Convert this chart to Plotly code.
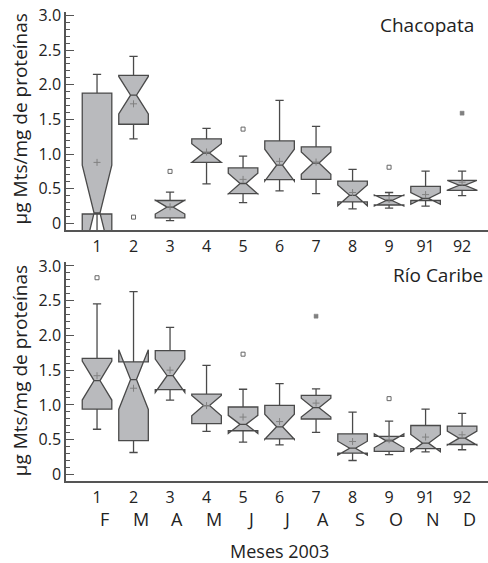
import plotly.graph_objects as go

# ---------------- data ----------------
categories = ["1", "2", "3", "4", "5", "6", "7", "8", "9", "91", "92"]
months = ["F", "M", "A", "M", "J", "J", "A", "S", "O", "N", "D"]
ytick_vals = [0, 0.5, 1.0, 1.5, 2.0, 2.5, 3.0]
ytick_text = ["0", "0.5", "1.0", "1.5", "2.0", "2.5", "3.0"]

# Chacopata
cha_low = [0.09, 1.22, 0.04, 0.57, 0.30, 0.47, 0.43, 0.21, 0.22, 0.25, 0.40]
cha_q1 = [0.135, 1.43, 0.08, 0.88, 0.43, 0.63, 0.635, 0.31, 0.265, 0.33, 0.475]
cha_med = [0.15, 1.85, 0.235, 1.015, 0.575, 0.84, 0.87, 0.405, 0.33, 0.36, 0.55]
cha_q3 = [1.88, 2.135, 0.33, 1.22, 0.80, 1.19, 1.105, 0.61, 0.40, 0.535, 0.62]
cha_up = [2.15, 2.41, 0.45, 1.37, 0.97, 1.775, 1.40, 0.78, 0.445, 0.755, 0.755]
cha_mean = [0.88, 1.725, 0.24, 1.03, 0.635, 0.895, 0.885, 0.445, 0.345, 0.415, 0.595]
cha_notch = [0.69, 0.27, 0.10, 0.135, 0.15, 0.23, 0.16, 0.15, 0.08, 0.085, 0.07]
cha_out_x = ["2", "3", "5", "9"]
cha_out_y = [0.09, 0.75, 1.36, 0.81]
cha_far_x = ["92"]
cha_far_y = [1.59]

# Río Caribe
rio_low = [0.65, 0.315, 1.07, 0.62, 0.465, 0.425, 0.605, 0.20, 0.285, 0.335, 0.355]
rio_q1 = [0.94, 0.487, 1.22, 0.73, 0.628, 0.51, 0.797, 0.305, 0.33, 0.372, 0.43]
rio_med = [1.35, 1.365, 1.42, 0.99, 0.72, 0.685, 0.96, 0.377, 0.483, 0.45, 0.522]
rio_q3 = [1.67, 1.62, 1.78, 1.155, 0.97, 0.993, 1.137, 0.584, 0.546, 0.704, 0.695]
rio_up = [2.455, 2.63, 2.115, 1.57, 1.225, 1.305, 1.23, 0.897, 0.767, 0.94, 0.877]
rio_mean = [1.42, 1.24, 1.50, 0.99, 0.825, 0.76, 1.026, 0.473, 0.498, 0.537, 0.57]
rio_notch = [0.28, 0.43, 0.24, 0.145, 0.13, 0.18, 0.135, 0.10, 0.10, 0.125, 0.10]
rio_out_x = ["1", "5", "9"]
rio_out_y = [2.83, 1.73, 1.09]
rio_far_x = ["7"]
rio_far_y = [2.277]

# ---------------- style ----------------
FONT = "Open Sans"
FILL = "#b9babd"
EDGE = "#4a4a4a"
AXC = "#555555"
TXT = "#222222"

fig = go.Figure()


def add_panel(xa, ya, low, q1, med, q3, up, mean, notch, ox, oy, fx, fy):
    fig.add_trace(go.Box(
        x=categories, q1=q1, median=med, q3=q3,
        lowerfence=low, upperfence=up, notchspan=notch,
        notched=True, notchwidth=0.4, whiskerwidth=0.28, width=0.81,
        fillcolor=FILL, line=dict(color=EDGE, width=1.3),
        boxpoints=False, xaxis=xa, yaxis=ya, showlegend=False,
    ))
    fig.add_trace(go.Scatter(
        x=categories, y=mean, mode="markers", xaxis=xa, yaxis=ya,
        marker=dict(symbol="cross-thin-open", size=5, color="#808080",
                    line=dict(color="#808080", width=1)),
        showlegend=False,
    ))
    fig.add_trace(go.Scatter(
        x=ox, y=oy, mode="markers", xaxis=xa, yaxis=ya,
        marker=dict(symbol="square-open", size=4, color="#666666",
                    line=dict(color="#666666", width=1)),
        showlegend=False,
    ))
    fig.add_trace(go.Scatter(
        x=fx, y=fy, mode="markers", xaxis=xa, yaxis=ya,
        marker=dict(symbol="square", size=4, color="#808080",
                    line=dict(color="#808080", width=0.5)),
        showlegend=False,
    ))


add_panel("x", "y", cha_low, cha_q1, cha_med, cha_q3, cha_up, cha_mean,
          cha_notch, cha_out_x, cha_out_y, cha_far_x, cha_far_y)
add_panel("x2", "y2", rio_low, rio_q1, rio_med, rio_q3, rio_up, rio_mean,
          rio_notch, rio_out_x, rio_out_y, rio_far_x, rio_far_y)

xcommon = dict(
    type="category", categoryorder="array", categoryarray=categories,
    range=[-0.85, 10.71], showline=True, linecolor=AXC, linewidth=1.5,
    ticks="", showgrid=False, zeroline=False, ticklabelstandoff=1,
    tickfont=dict(family=FONT, size=16, color=TXT),
)
ycommon = dict(
    range=[-0.095, 3.05], tickmode="array", tickvals=ytick_vals,
    ticktext=ytick_text, showline=True, linecolor=AXC, linewidth=1.5,
    ticks="inside", ticklen=8, tickwidth=1.3, tickcolor=AXC,
    minor=dict(ticks="inside", ticklen=4, tickwidth=1.1, tickcolor=AXC,
               dtick=0.1, tick0=0, showgrid=False),
    showgrid=False, zeroline=False,
    tickfont=dict(family=FONT, size=16, color=TXT),
)

fig.update_layout(
    width=488, height=563,
    margin=dict(l=66, r=0, t=11.5, b=81.5),
    paper_bgcolor="white", plot_bgcolor="white",
    font=dict(family=FONT, color=TXT),
    xaxis=dict(anchor="y", **xcommon),
    yaxis=dict(domain=[0.5353, 1.0], anchor="x", **ycommon),
    xaxis2=dict(anchor="y2", **xcommon),
    yaxis2=dict(domain=[0.0, 0.466], anchor="x2", **ycommon),
)

ann = []
ylabel = "µg Mts/mg de proteínas"
ann.append(dict(text=ylabel, xref="paper", yref="paper", x=-0.109, y=0.771,
                textangle=-90, showarrow=False, xanchor="center", yanchor="middle",
                font=dict(family=FONT, size=19, color=TXT)))
ann.append(dict(text=ylabel, xref="paper", yref="paper", x=-0.109, y=0.234,
                textangle=-90, showarrow=False, xanchor="center", yanchor="middle",
                font=dict(family=FONT, size=19, color=TXT)))
ann.append(dict(text="Chacopata", xref="paper", yref="paper", x=0.855, y=0.973,
                showarrow=False, xanchor="center", yanchor="middle",
                font=dict(family=FONT, size=19, color=TXT)))
ann.append(dict(text="Río Caribe", xref="paper", yref="paper", x=0.881, y=0.4394,
                showarrow=False, xanchor="center", yanchor="middle",
                font=dict(family=FONT, size=19, color=TXT)))
ann.append(dict(text="Meses 2003", xref="paper", yref="paper", x=0.505, y=-0.149,
                showarrow=False, xanchor="center", yanchor="middle",
                font=dict(family=FONT, size=18, color=TXT)))
for i, m in enumerate(months):
    ann.append(dict(text=m, xref="x2", yref="paper", x=i, y=-0.0805,
                    xshift=7, showarrow=False, xanchor="center", yanchor="middle",
                    font=dict(family=FONT, size=18, color=TXT)))
fig.update_layout(annotations=ann)

fig.write_html(
    "out.html",
    config={"displayModeBar": False},
    post_script="document.body.style.margin='0';document.body.style.padding='0';",
)
